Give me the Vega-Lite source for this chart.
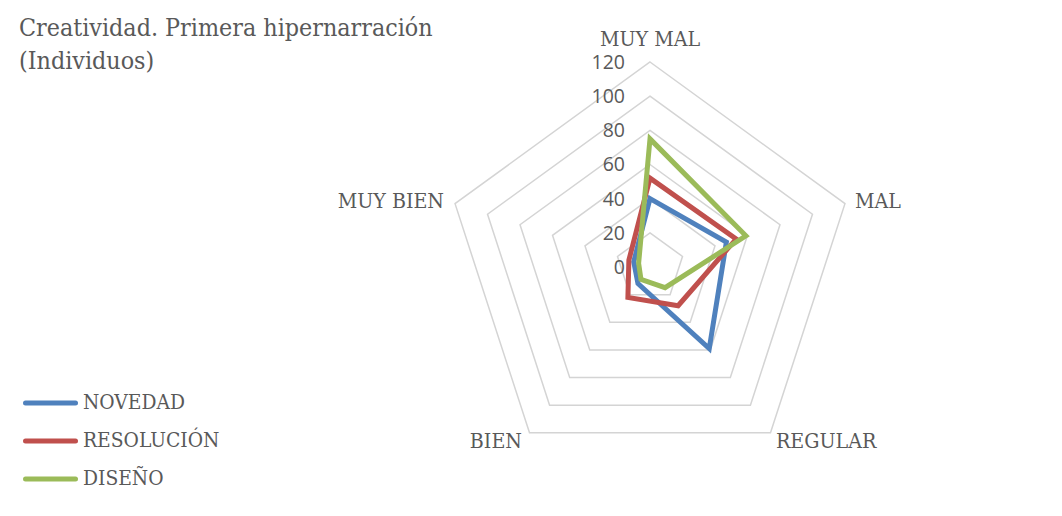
{
  "$schema": "https://vega.github.io/schema/vega-lite/v6.json",
  "width": 1062,
  "height": 516,
  "autosize": {"type": "none"},
  "padding": 0,
  "background": "white",
  "config": {"view": {"stroke": null}},
  "title": {
    "text": ["Creatividad. Primera hipernarración", "(Individuos)"],
    "anchor": "start",
    "frame": "group",
    "orient": "top",
    "dx": 19,
    "offset": -74,
    "baseline": "top",
    "font": "DejaVu Serif Condensed",
    "fontSize": 24.8,
    "fontWeight": "normal",
    "lineHeight": 33,
    "color": "#595959"
  },
  "datasets": {
    "series": [
      {"serie": "NOVEDAD", "cat": "MUY MAL", "v": 40},
      {"serie": "NOVEDAD", "cat": "MAL", "v": 47},
      {"serie": "NOVEDAD", "cat": "REGULAR", "v": 59},
      {"serie": "NOVEDAD", "cat": "BIEN", "v": 12},
      {"serie": "NOVEDAD", "cat": "MUY BIEN", "v": 10},
      {"serie": "RESOLUCIÓN", "cat": "MUY MAL", "v": 52},
      {"serie": "RESOLUCIÓN", "cat": "MAL", "v": 53},
      {"serie": "RESOLUCIÓN", "cat": "REGULAR", "v": 28},
      {"serie": "RESOLUCIÓN", "cat": "BIEN", "v": 22},
      {"serie": "RESOLUCIÓN", "cat": "MUY BIEN", "v": 13},
      {"serie": "DISEÑO", "cat": "MUY MAL", "v": 75},
      {"serie": "DISEÑO", "cat": "MAL", "v": 59},
      {"serie": "DISEÑO", "cat": "REGULAR", "v": 15},
      {"serie": "DISEÑO", "cat": "BIEN", "v": 9},
      {"serie": "DISEÑO", "cat": "MUY BIEN", "v": 7}
    ],
    "grid": [
      {"level": 20, "cat": "MUY MAL"}, {"level": 20, "cat": "MAL"}, {"level": 20, "cat": "REGULAR"}, {"level": 20, "cat": "BIEN"}, {"level": 20, "cat": "MUY BIEN"},
      {"level": 40, "cat": "MUY MAL"}, {"level": 40, "cat": "MAL"}, {"level": 40, "cat": "REGULAR"}, {"level": 40, "cat": "BIEN"}, {"level": 40, "cat": "MUY BIEN"},
      {"level": 60, "cat": "MUY MAL"}, {"level": 60, "cat": "MAL"}, {"level": 60, "cat": "REGULAR"}, {"level": 60, "cat": "BIEN"}, {"level": 60, "cat": "MUY BIEN"},
      {"level": 80, "cat": "MUY MAL"}, {"level": 80, "cat": "MAL"}, {"level": 80, "cat": "REGULAR"}, {"level": 80, "cat": "BIEN"}, {"level": 80, "cat": "MUY BIEN"},
      {"level": 100, "cat": "MUY MAL"}, {"level": 100, "cat": "MAL"}, {"level": 100, "cat": "REGULAR"}, {"level": 100, "cat": "BIEN"}, {"level": 100, "cat": "MUY BIEN"},
      {"level": 120, "cat": "MUY MAL"}, {"level": 120, "cat": "MAL"}, {"level": 120, "cat": "REGULAR"}, {"level": 120, "cat": "BIEN"}, {"level": 120, "cat": "MUY BIEN"}
    ],
    "ticks": [
      {"tick": 0}, {"tick": 20}, {"tick": 40}, {"tick": 60}, {"tick": 80}, {"tick": 100}, {"tick": 120}
    ],
    "cats": [
      {"cat": "MUY MAL", "level": 120},
      {"cat": "MAL", "level": 120},
      {"cat": "REGULAR", "level": 120},
      {"cat": "BIEN", "level": 120},
      {"cat": "MUY BIEN", "level": 120}
    ]
  },
  "layer": [
    {
      "data": {"name": "grid"},
      "transform": [
        {"calculate": "indexof(['MUY MAL','MAL','REGULAR','BIEN','MUY BIEN'], datum.cat)", "as": "k"},
        {"calculate": "PI/2 - datum.k*2*PI/5", "as": "a"},
        {"calculate": "datum.level*cos(datum.a)", "as": "px"},
        {"calculate": "datum.level*sin(datum.a)", "as": "py"}
      ],
      "mark": {"type": "line", "interpolate": "linear-closed", "color": "#d4d4d4", "strokeWidth": 1.5},
      "encoding": {
        "x": {"field": "px", "type": "quantitative", "scale": {"domain": [-380.49, 241.17], "nice": false, "zero": false}, "axis": null},
        "y": {"field": "py", "type": "quantitative", "scale": {"domain": [-145.76, 156.29], "nice": false, "zero": false}, "axis": null},
        "detail": {"field": "level", "type": "nominal"},
        "order": {"field": "k", "type": "quantitative"}
      }
    },
    {
      "data": {"name": "series"},
      "transform": [
        {"calculate": "indexof(['MUY MAL','MAL','REGULAR','BIEN','MUY BIEN'], datum.cat)", "as": "k"},
        {"calculate": "PI/2 - datum.k*2*PI/5", "as": "a"},
        {"calculate": "datum.v*cos(datum.a)", "as": "px"},
        {"calculate": "datum.v*sin(datum.a)", "as": "py"}
      ],
      "mark": {"type": "line", "interpolate": "linear-closed", "strokeWidth": 5},
      "encoding": {
        "x": {"field": "px", "type": "quantitative"},
        "y": {"field": "py", "type": "quantitative"},
        "color": {
          "field": "serie", "type": "nominal",
          "scale": {"domain": ["NOVEDAD", "RESOLUCIÓN", "DISEÑO"], "range": ["#4f81bd", "#c0504d", "#9bbb59"]},
          "legend": {
            "orient": "none",
            "legendX": 23,
            "legendY": 388,
            "title": null,
            "padding": 0,
            "symbolType": "stroke",
            "symbolSize": 2500,
            "symbolStrokeWidth": 5,
            "clipHeight": 30,
            "rowPadding": 8,
            "labelOffset": 5,
            "labelFont": "DejaVu Serif Condensed",
            "labelFontSize": 20.8,
            "labelColor": "#595959",
            "labelLimit": 400,
            "encode": {"symbols": {"update": {"strokeCap": {"value": "round"}}}}
          }
        },
        "order": {"field": "k", "type": "quantitative"}
      }
    },
    {
      "data": {"name": "ticks"},
      "transform": [
        {"calculate": "0", "as": "px"},
        {"calculate": "datum.tick", "as": "py"}
      ],
      "mark": {"type": "text", "align": "right", "baseline": "middle", "dx": -25, "dy": 1, "font": "Open Sans", "fontSize": 19.5, "color": "#595959"},
      "encoding": {
        "x": {"field": "px", "type": "quantitative"},
        "y": {"field": "py", "type": "quantitative"},
        "text": {"field": "tick", "type": "quantitative"}
      }
    },
    {
      "data": {"name": "cats"},
      "transform": [
        {"filter": "datum.cat == 'MUY MAL'"},
        {"calculate": "0", "as": "px"},
        {"calculate": "datum.level", "as": "py"}
      ],
      "mark": {"type": "text", "align": "center", "baseline": "alphabetic", "dy": -16, "font": "DejaVu Serif Condensed", "fontSize": 21.2, "color": "#595959"},
      "encoding": {
        "x": {"field": "px", "type": "quantitative"},
        "y": {"field": "py", "type": "quantitative"},
        "text": {"field": "cat", "type": "nominal"}
      }
    },
    {
      "data": {"name": "cats"},
      "transform": [
        {"filter": "datum.cat == 'MAL'"},
        {"calculate": "datum.level*cos(PI/2 - 2*PI/5)", "as": "px"},
        {"calculate": "datum.level*sin(PI/2 - 2*PI/5)", "as": "py"}
      ],
      "mark": {"type": "text", "align": "left", "baseline": "alphabetic", "dx": 10, "dy": 4.5, "font": "DejaVu Serif Condensed", "fontSize": 21.2, "color": "#595959"},
      "encoding": {
        "x": {"field": "px", "type": "quantitative"},
        "y": {"field": "py", "type": "quantitative"},
        "text": {"field": "cat", "type": "nominal"}
      }
    },
    {
      "data": {"name": "cats"},
      "transform": [
        {"filter": "datum.cat == 'REGULAR'"},
        {"calculate": "datum.level*cos(PI/2 - 4*PI/5)", "as": "px"},
        {"calculate": "datum.level*sin(PI/2 - 4*PI/5)", "as": "py"}
      ],
      "mark": {"type": "text", "align": "left", "baseline": "alphabetic", "dx": 5.5, "dy": 15, "font": "DejaVu Serif Condensed", "fontSize": 21.2, "color": "#595959"},
      "encoding": {
        "x": {"field": "px", "type": "quantitative"},
        "y": {"field": "py", "type": "quantitative"},
        "text": {"field": "cat", "type": "nominal"}
      }
    },
    {
      "data": {"name": "cats"},
      "transform": [
        {"filter": "datum.cat == 'BIEN'"},
        {"calculate": "datum.level*cos(PI/2 - 6*PI/5)", "as": "px"},
        {"calculate": "datum.level*sin(PI/2 - 6*PI/5)", "as": "py"}
      ],
      "mark": {"type": "text", "align": "right", "baseline": "alphabetic", "dx": -7.5, "dy": 15, "font": "DejaVu Serif Condensed", "fontSize": 21.2, "color": "#595959"},
      "encoding": {
        "x": {"field": "px", "type": "quantitative"},
        "y": {"field": "py", "type": "quantitative"},
        "text": {"field": "cat", "type": "nominal"}
      }
    },
    {
      "data": {"name": "cats"},
      "transform": [
        {"filter": "datum.cat == 'MUY BIEN'"},
        {"calculate": "datum.level*cos(PI/2 - 8*PI/5)", "as": "px"},
        {"calculate": "datum.level*sin(PI/2 - 8*PI/5)", "as": "py"}
      ],
      "mark": {"type": "text", "align": "right", "baseline": "alphabetic", "dx": -11, "dy": 4.7, "font": "DejaVu Serif Condensed", "fontSize": 21.2, "color": "#595959"},
      "encoding": {
        "x": {"field": "px", "type": "quantitative"},
        "y": {"field": "py", "type": "quantitative"},
        "text": {"field": "cat", "type": "nominal"}
      }
    }
  ]
}
